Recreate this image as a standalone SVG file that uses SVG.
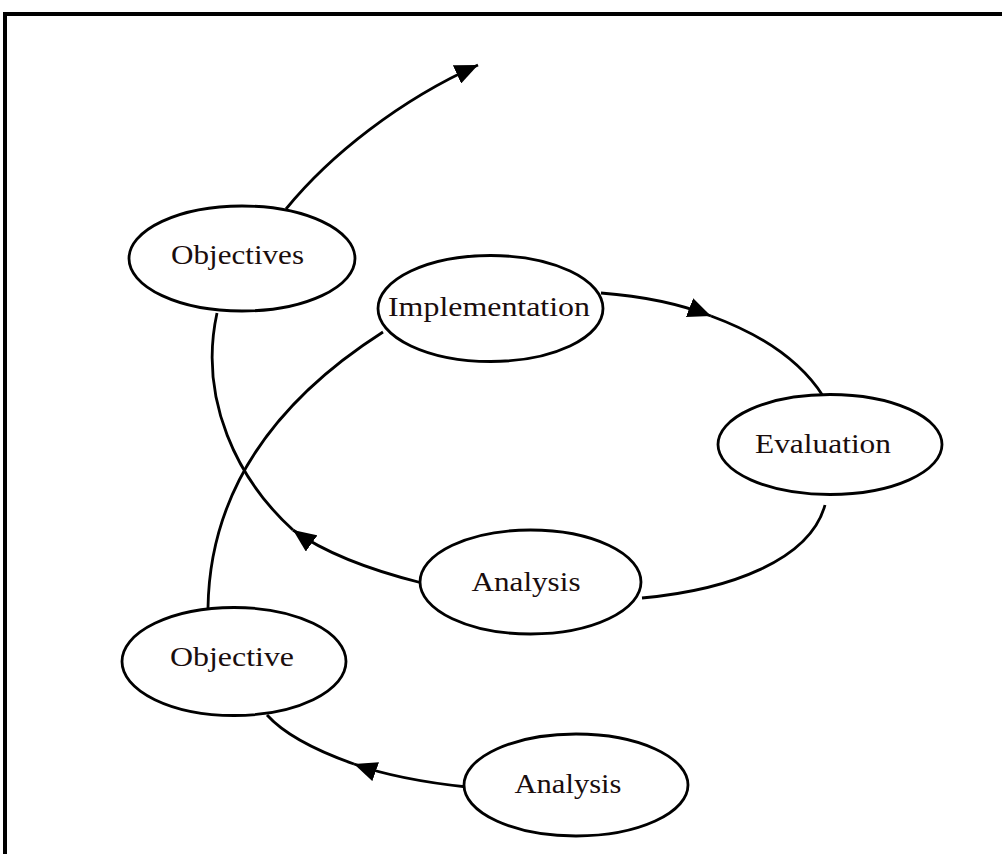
<svg xmlns="http://www.w3.org/2000/svg" width="1002" height="854" viewBox="0 0 1002 854">
<style>
.node ellipse{fill:#fff;stroke:#000;stroke-width:2.8}
.node text{font-family:"Liberation Serif","Times New Roman",serif;font-size:28px;fill:#1a0d0d;text-anchor:middle}
.edge{fill:none;stroke:#000;stroke-width:2.8}
</style>
<defs>
<marker id="arr" markerUnits="userSpaceOnUse" markerWidth="24" markerHeight="20" refX="23" refY="10" orient="auto">
<path d="M0,0 L23,10 L0,20 z" fill="#000"/>
</marker>
</defs>
<rect x="0" y="0" width="1002" height="854" fill="#fff"/>
<rect x="3" y="12" width="999" height="4" fill="#000"/>
<rect x="3" y="12" width="4" height="842" fill="#000"/>
<g id="connectors">
<path class="edge" d="M286,209 C330,155 400,100 478,65" marker-end="url(#arr)"/>
<path class="edge" d="M601,293 C640,296 680,304 711,316" marker-end="url(#arr)"/>
<path class="edge" d="M711,316 C760,334 800,360 823,396"/>
<path class="edge" d="M825,505 C810,560 730,590 642,598"/>
<path class="edge" d="M422,583 C370,570 325,553 293,530" marker-end="url(#arr)"/>
<path class="edge" d="M293,530 C238,480 198,400 217,313"/>
<path class="edge" d="M383,332 C300,385 210,470 208,608"/>
<path class="edge" d="M467,787 C420,782 385,775 354,764" marker-end="url(#arr)"/>
<path class="edge" d="M354,764 C320,752 285,735 267,715"/>
</g>
<g id="objectives" class="node"><ellipse cx="242" cy="258.5" rx="113" ry="52.5"/><text x="237.5" y="264" textLength="133" lengthAdjust="spacingAndGlyphs">Objectives</text></g>
<g id="implementation" class="node"><ellipse cx="490.5" cy="308.5" rx="112.5" ry="53"/><text x="489" y="316" textLength="202" lengthAdjust="spacingAndGlyphs">Implementation</text></g>
<g id="evaluation" class="node"><ellipse cx="830" cy="444.5" rx="112" ry="50"/><text x="823" y="453" textLength="136" lengthAdjust="spacingAndGlyphs">Evaluation</text></g>
<g id="analysis1" class="node"><ellipse cx="530.5" cy="582" rx="110.5" ry="52"/><text x="526" y="591" textLength="109" lengthAdjust="spacingAndGlyphs">Analysis</text></g>
<g id="objective" class="node"><ellipse cx="234" cy="661.5" rx="112" ry="54"/><text x="232" y="666" textLength="124" lengthAdjust="spacingAndGlyphs">Objective</text></g>
<g id="analysis2" class="node"><ellipse cx="576" cy="785" rx="112" ry="51"/><text x="568" y="793" textLength="107" lengthAdjust="spacingAndGlyphs">Analysis</text></g>
</svg>
